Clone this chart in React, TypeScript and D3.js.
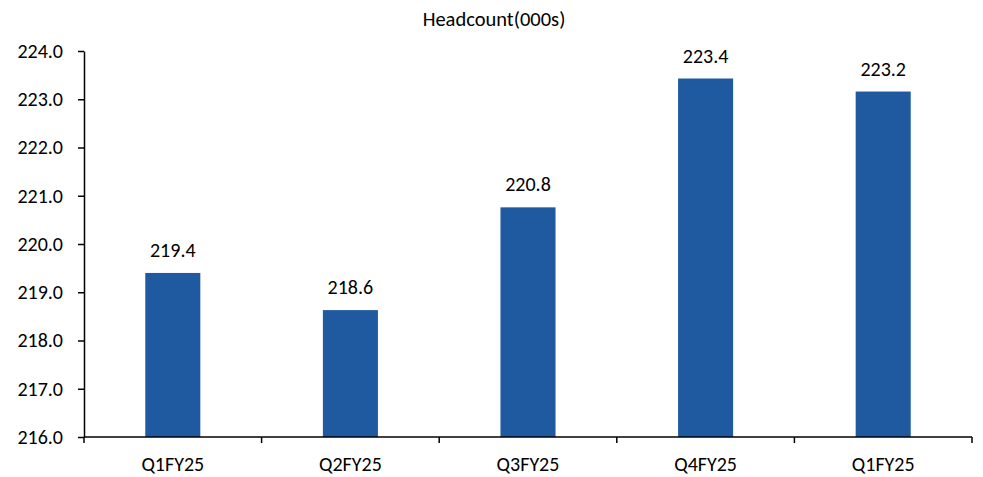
import React, { useEffect, useRef } from "react";
import * as d3 from "d3";

const categories = ["Q1FY25", "Q2FY25", "Q3FY25", "Q4FY25", "Q1FY25"];
const headcount = [219.4, 218.63, 220.76, 223.43, 223.16];
const yTicks = [216, 217, 218, 219, 220, 221, 222, 223, 224];
const title = "Headcount(000s)";

const W = 983;
const H = 477;
const FONT = "Carlito, Lato, 'Open Sans', sans-serif";
const FS = 20;

export default function App() {
  const ref = useRef<SVGSVGElement>(null);

  useEffect(() => {
    const svg = d3.select(ref.current);
    svg.selectAll("*").remove();

    const x = d3
      .scaleBand<number>()
      .domain(categories.map((_, i) => i))
      .range([84, 972])
      .paddingInner(0.69)
      .paddingOuter(0.345);
    const y = d3.scaleLinear().domain([216, 224]).range([437, 51]);

    svg
      .append("text")
      .attr("x", 494)
      .attr("y", 26)
      .attr("text-anchor", "middle")
      .attr("font-family", FONT)
      .attr("font-size", 20.5)
      .attr("fill", "#000")
      .text(title);

    // bars
    svg
      .append("g")
      .selectAll("rect")
      .data(headcount)
      .join("rect")
      .attr("x", (_, i) => x(i)!)
      .attr("width", x.bandwidth())
      .attr("y", (d) => y(d))
      .attr("height", (d) => y(216) - y(d))
      .attr("fill", "#1F5AA0");

    // labels
    svg
      .append("g")
      .selectAll("text")
      .data(headcount)
      .join("text")
      .attr("x", (_, i) => x(i)! + x.bandwidth() / 2)
      .attr("y", (d) => y(d) - 16)
      .attr("text-anchor", "middle")
      .attr("font-family", FONT)
      .attr("font-size", FS)
      .attr("fill", "#000")
      .text((d) => d.toFixed(1));

    // y axis
    const yAxis = svg
      .append("g")
      .attr("transform", "translate(84,0)")
      .call(
        d3
          .axisLeft(y)
          .tickValues(yTicks)
          .tickSize(6)
          .tickSizeOuter(0)
          .tickPadding(15)
          .tickFormat(d3.format(".1f") as any)
      );
    yAxis.selectAll("path,line").attr("stroke", "#000").attr("stroke-width", 1.5);
    yAxis
      .selectAll("text")
      .attr("font-family", FONT)
      .attr("font-size", FS)
      .attr("fill", "#000");

    // x axis
    const step = x.step();
    const xg = svg.append("g");
    xg.append("line")
      .attr("x1", 84)
      .attr("x2", 972)
      .attr("y1", 437)
      .attr("y2", 437)
      .attr("stroke", "#000")
      .attr("stroke-width", 1.5);
    xg.selectAll("line.tk")
      .data(d3.range(categories.length + 1))
      .join("line")
      .attr("class", "tk")
      .attr("x1", (i) => 84 + i * step)
      .attr("x2", (i) => 84 + i * step)
      .attr("y1", 437)
      .attr("y2", 443)
      .attr("stroke", "#000")
      .attr("stroke-width", 1.5);
    xg.selectAll("text")
      .data(categories)
      .join("text")
      .attr("x", (_, i) => x(i)! + x.bandwidth() / 2)
      .attr("y", 471)
      .attr("text-anchor", "middle")
      .attr("font-family", FONT)
      .attr("font-size", FS)
      .attr("fill", "#000")
      .text((d) => d);
  }, []);

  return (
    <svg
      ref={ref}
      width={W}
      height={H}
      style={{ position: "absolute", left: 0, top: 0, background: "#fff" }}
    />
  );
}
